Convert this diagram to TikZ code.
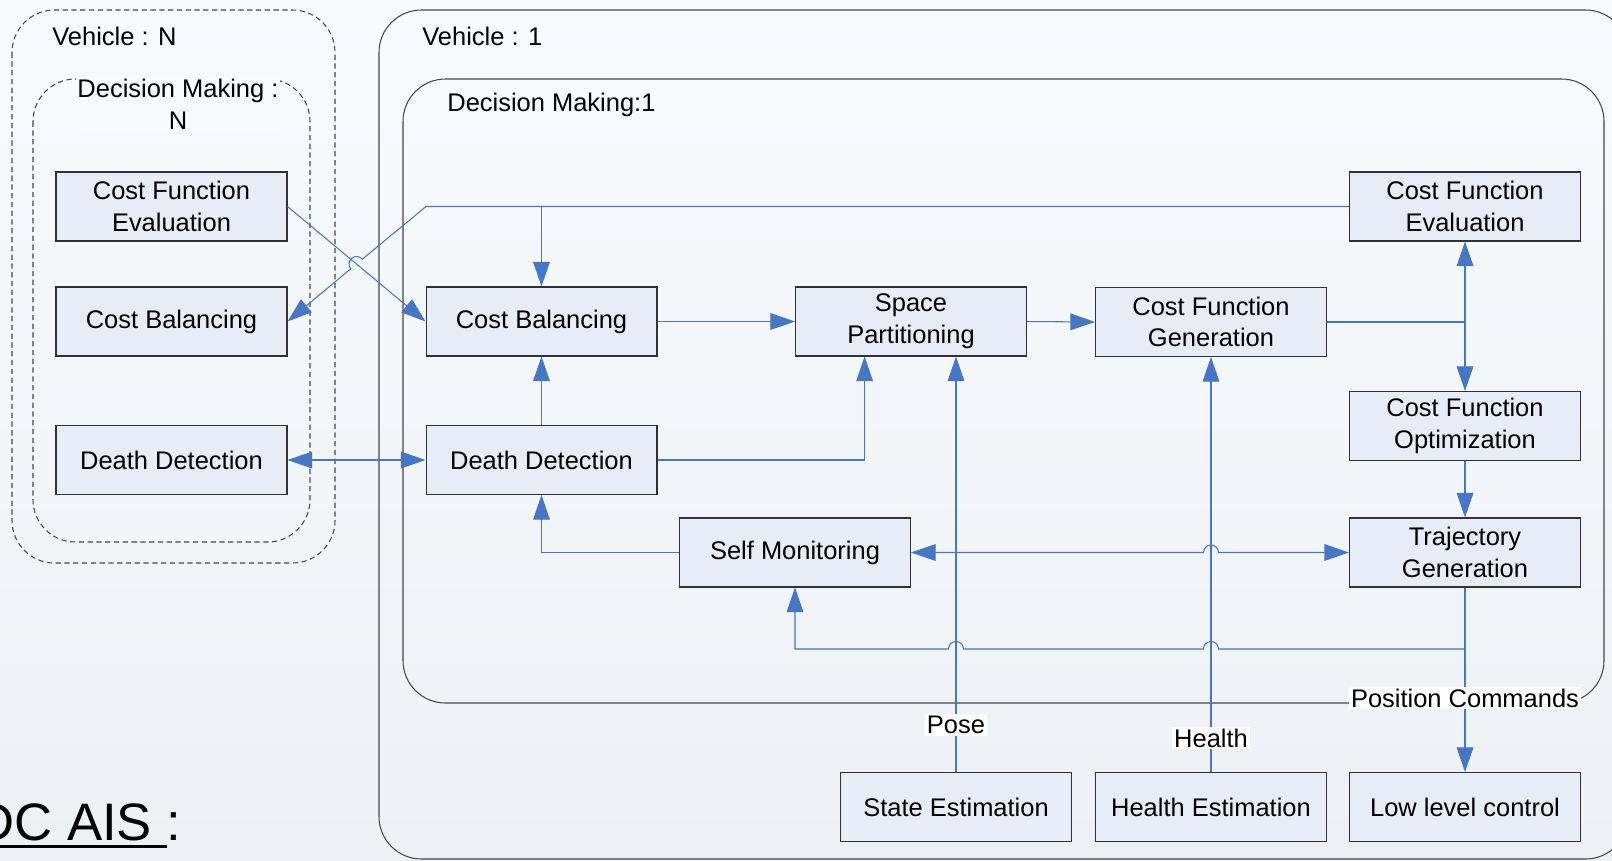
\documentclass[tikz,border=0pt]{standalone}
\usepackage{fontspec}
\setmainfont{Liberation Sans}
\usetikzlibrary{arrows.meta, calc}

\newsavebox{\ulbox}
\newcommand{\thickul}[1]{\sbox{\ulbox}{#1}\rlap{\rule[-4.5pt]{\wd\ulbox}{1.7pt}}\usebox{\ulbox}}

\definecolor{linkblue}{RGB}{70,118,196}
\definecolor{boxfill}{RGB}{231,237,247}
\definecolor{boxline}{RGB}{50,50,50}
\definecolor{frameline}{RGB}{70,70,70}
\definecolor{bgtop}{RGB}{248,251,254}
\definecolor{bgbot}{RGB}{237,241,245}

\begin{document}
\begin{tikzpicture}[
  x=0.02cm, y=-0.02cm,
  font=\fontsize{14.5}{18}\selectfont,
  block/.style={draw=boxline, fill=boxfill, line width=0.6pt, minimum width=4.62cm, minimum height=1.38cm, inner sep=1pt, align=center},
  frame/.style={draw=frameline, line width=0.6pt, rounded corners=0.85cm},
  dframe/.style={frame, dash pattern=on 3pt off 2pt},
  title/.style={anchor=west, inner sep=0pt},
  lbl/.style={fill=white, inner sep=1pt},
  arr/.style={-{Triangle[length=14pt,width=9.5pt]}, draw=linkblue, line width=0.6pt},
  dbl/.style={{Triangle[length=14pt,width=9.5pt]}-{Triangle[length=14pt,width=9.5pt]}, draw=linkblue, line width=0.6pt},
  wire/.style={draw=linkblue, line width=0.6pt}
]
  \useasboundingbox (0,0) rectangle (1612,860);
  \clip (0,0) rectangle (1612,860);
  \shade[top color=bgtop, bottom color=bgbot] (0,0) rectangle (1612,860);

  % containers
  \draw[dframe] (12,10) rectangle (335,563);
  \draw[dframe] (33,79) rectangle (310,542);
  \draw[frame] (379,10) rectangle (1628,859);
  \draw[frame] (403,79) rectangle (1604,703);

  \node[title] (vehN) at (52,36) {Vehicle : N};
  \node[fill=bgtop, inner sep=1pt, align=center] (dmN) at (178,104) {Decision Making :\\N};
  \node[title] (veh1) at (422,36) {Vehicle : 1};
  \node[title] (dm1) at (447,105) {Decision Making:1};

  % vehicle N
  \node[block] (cfeN) at (171.5,206.5) {Cost Function\\Evaluation};
  \node[block] (cbN) at (171.5,321.5) {Cost Balancing};
  \node[block] (ddN) at (171.5,460) {Death Detection};

  % vehicle 1
  \node[block] (cb) at (541.5,321.5) {Cost Balancing};
  \node[block] (dd) at (541.5,460) {Death Detection};
  \node[block] (sp) at (911,321.5) {Space\\Partitioning};
  \node[block] (cfg) at (1211,322) {Cost Function\\Generation};
  \node[block] (cfe) at (1465,206.5) {Cost Function\\Evaluation};
  \node[block] (cfo) at (1465,426) {Cost Function\\Optimization};
  \node[block] (tg) at (1465,552.5) {Trajectory\\Generation};
  \node[block] (sm) at (795,552.5) {Self Monitoring};
  \node[block] (se) at (956,807) {State Estimation};
  \node[block] (he) at (1211,807) {Health Estimation};
  \node[block] (llc) at (1465,807) {Low level control};

  % links between vehicles
  \draw[arr] (cfeN.east) -- (cb.west);
  \coordinate (t1) at (cb.north |- cfe.west);
  \draw[arr] (cfe.west) -- (426,206.5) -- (362.3,259.2) arc[start angle=39.6, end angle=219.6, radius=0.15cm] -- (cbN.east);
  \draw[arr] (t1) -- (cb.north);
  \draw[dbl] (ddN.east) -- (dd.west);

  % decision making flow
  \draw[arr] (cb.east) -- (sp.west);
  \draw[arr] (sp.east) -- (cfg.west);
  \draw[wire] (cfg.east) -- (cfe.south |- cfg.east) coordinate (j1);
  \draw[arr] (j1) -- (cfe.south);
  \draw[arr] (j1) -- (cfo.north);
  \draw[arr] (cfo.south) -- (tg.north);
  \draw[arr] (dd.north) -- (cb.south);
  \draw[arr] (dd.east) -| ($(sp.south west)!0.3!(sp.south east)$);
  \draw[arr] (sm.west) -| (dd.south);
  \draw[dbl] (sm.east) -- (1203.5,552.5) arc[start angle=180, end angle=0, radius=0.15cm] -- (tg.west);
  \draw[arr] (tg.south) -- (llc.north);
  \coordinate (j2) at (1465,649);
  \draw[arr] (j2) -- (1218.5,649) arc[start angle=0, end angle=180, radius=0.15cm]
    -- (963.5,649) arc[start angle=0, end angle=180, radius=0.15cm]
    -- (sm.south |- j2) -- (sm.south);
  \draw[arr] (se.north) -- (se.north |- sp.south);
  \draw[arr] (he.north) -- (cfg.south);

  \node[lbl] (pose) at (956,725) {Pose};
  \node[lbl] (health) at (1211,738) {Health};
  \node[lbl] (poscmd) at (1465,698) {Position Commands};

  \node[anchor=base west, inner sep=0pt, font=\fontsize{30}{36}\selectfont] (ais) at (-24,840) {\thickul{DC AIS\ }:};
\end{tikzpicture}
\end{document}
